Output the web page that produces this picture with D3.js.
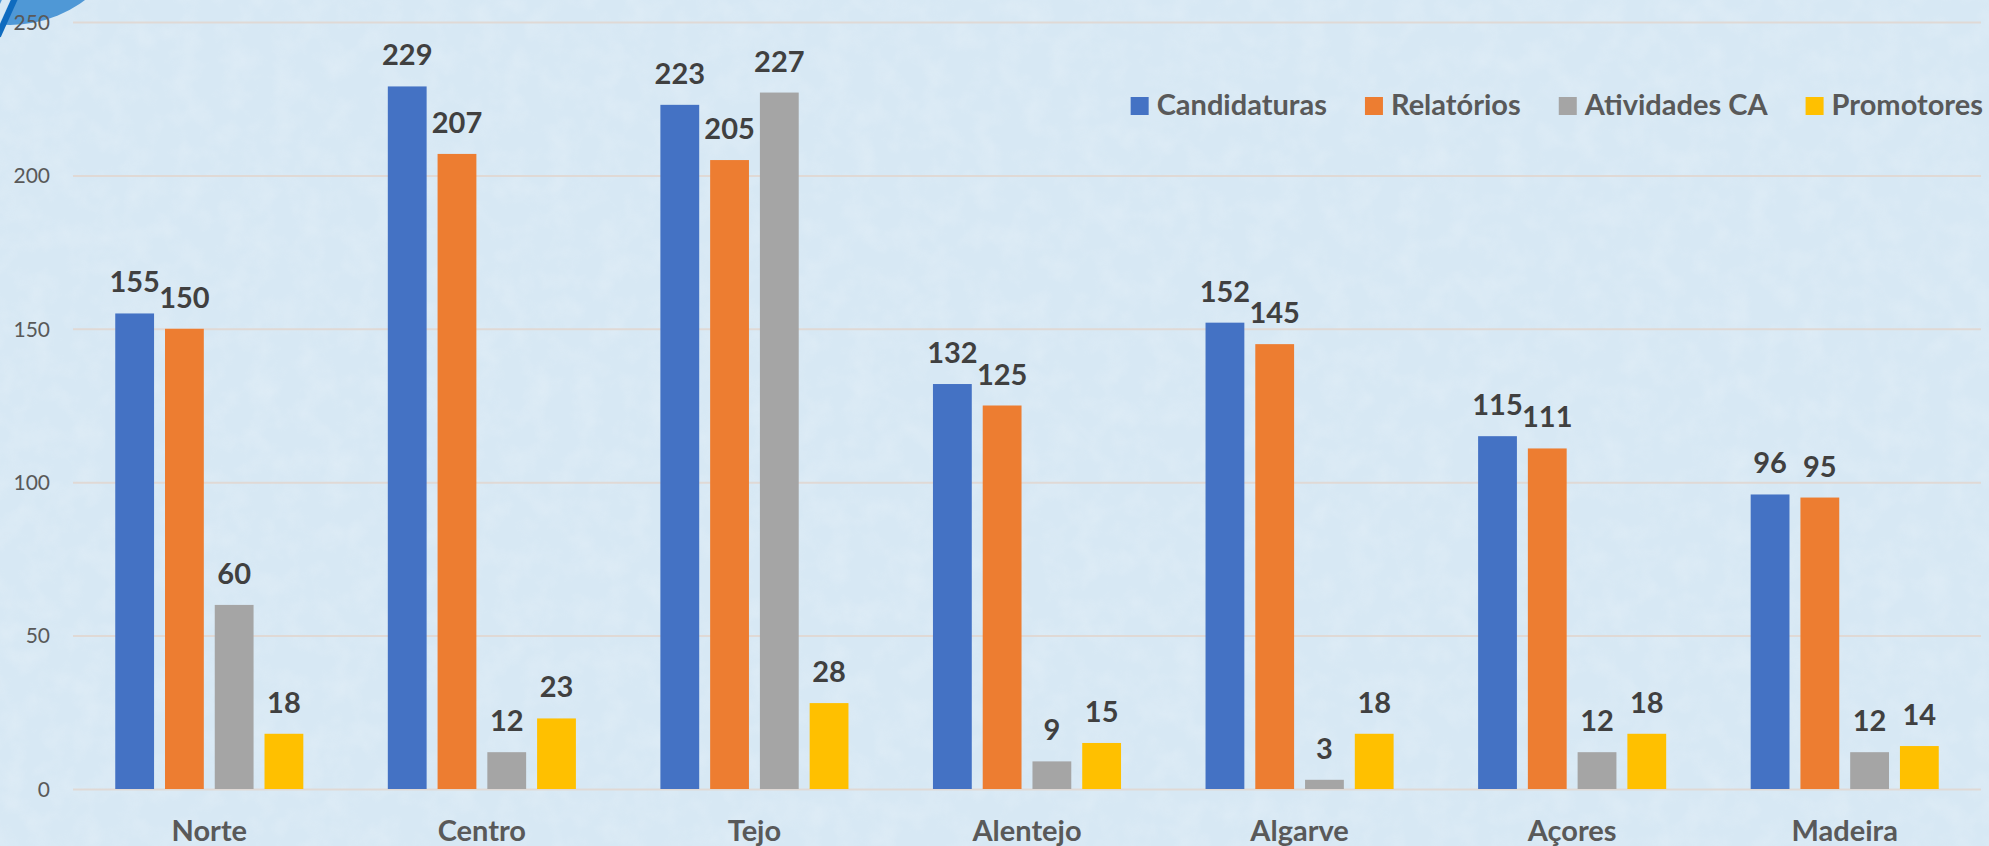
<!DOCTYPE html>
<html>
<head>
<meta charset="utf-8">
<script src="https://cdn.jsdelivr.net/npm/d3@7"></script>
<style>
  body { margin: 0; background: #d7e8f4; }
  svg { display: block; }
  text { font-family: Lato, "Open Sans", sans-serif; }
</style>
</head>
<body>
<svg id="canvas" width="1989" height="846"></svg>
<script>
const regions = ["Norte", "Centro", "Tejo", "Alentejo", "Algarve", "Açores", "Madeira"];
const seriesNames = ["Candidaturas", "Relatórios", "Atividades CA", "Promotores"];
const candidaturas = [155, 229, 223, 132, 152, 115, 96];
const relatorios = [150, 207, 205, 125, 145, 111, 95];
const atividadesCA = [60, 12, 227, 9, 3, 12, 12];
const promotores = [18, 23, 28, 15, 18, 18, 14];
const yTicks = [0, 50, 100, 150, 200, 250];
const colors = ["#4472c4", "#ed7d31", "#a5a5a5", "#ffc000"];

const allSeries = [candidaturas, relatorios, atividadesCA, promotores];

const chartW = 1989, chartH = 846;
const plotLeft = 73, plotRight = 1981, plotTop = 22, plotBottom = 789;

const svg = d3.select("#canvas");

// background with a bit of paper texture
const defs = svg.append("defs");
const filt = defs.append("filter").attr("id", "grain").attr("x", 0).attr("y", 0).attr("width", "100%").attr("height", "100%");
filt.append("feTurbulence").attr("type", "fractalNoise").attr("baseFrequency", 0.04).attr("numOctaves", 3).attr("seed", 4);
filt.append("feColorMatrix").attr("values", "0 0 0 0 1  0 0 0 0 1  0 0 0 0 1  0 0 0 0.9 -0.35");

svg.append("rect").attr("width", chartW).attr("height", chartH).attr("fill", "#d7e8f4");
svg.append("rect").attr("width", chartW).attr("height", chartH).attr("filter", "url(#grain)").attr("opacity", 0.35);

// logo corner
svg.append("circle").attr("cx", 10).attr("cy", -100).attr("r", 125).attr("fill", "#4f98d6");
svg.append("line").attr("x1", -2).attr("y1", 36).attr("x2", 16).attr("y2", -4)
    .attr("stroke", "#0f6bbf").attr("stroke-width", 6);
svg.append("line").attr("x1", -10).attr("y1", 36).attr("x2", 8).attr("y2", -4)
    .attr("stroke", "#d7e8f4").attr("stroke-width", 8);

const x0 = d3.scaleBand().domain(regions).range([plotLeft, plotRight]).paddingInner(0.31).paddingOuter(0.155);
const x1 = d3.scaleBand().domain(seriesNames).range([0, x0.bandwidth()]).paddingInner(0.22);
const y = d3.scaleLinear().domain([0, 250]).range([plotBottom, plotTop]);

// gridlines + y labels
const yAxis = d3.axisLeft(y).tickValues(yTicks).tickSize(-(plotRight - plotLeft)).tickPadding(23);
const gy = svg.append("g").attr("transform", `translate(${plotLeft},0)`).call(yAxis);
gy.select(".domain").remove();
gy.selectAll("line").attr("stroke", "#e0d9d5").attr("stroke-width", 2);
gy.selectAll("text").attr("fill", "#595959").attr("font-size", 21).attr("dy", "0.35em");

// x labels
const xAxis = d3.axisBottom(x0).tickSize(0).tickPadding(0);
const gx = svg.append("g").attr("transform", `translate(0,${plotBottom})`).call(xAxis);
gx.select(".domain").remove();
gx.selectAll("text").attr("fill", "#595959").attr("font-size", 29).attr("font-weight", "bold")
    .attr("dy", null).attr("y", 52);

// bars
const rows = regions.map((r, i) => ({ region: r, values: seriesNames.map((s, j) => ({ s, j, v: allSeries[j][i] })) }));

const groups = svg.selectAll("g.region").data(rows).enter().append("g")
    .attr("class", "region")
    .attr("transform", d => `translate(${x0(d.region)},0)`);

groups.selectAll("rect").data(d => d.values).enter().append("rect")
    .attr("x", d => x1(d.s))
    .attr("y", d => y(d.v))
    .attr("width", x1.bandwidth())
    .attr("height", d => y(0) - y(d.v))
    .attr("fill", d => colors[d.j]);

groups.selectAll("text").data(d => d.values).enter().append("text")
    .attr("x", d => x1(d.s) + x1.bandwidth() / 2)
    .attr("y", d => y(d.v) - 21)
    .attr("text-anchor", "middle")
    .attr("font-size", 29)
    .attr("font-weight", "bold")
    .attr("fill", "#404040")
    .text(d => d.v);

// legend, right-aligned to end near the edge
const legend = svg.append("g");
let lx = 0;
seriesNames.forEach((name, j) => {
    legend.append("rect").attr("x", lx).attr("y", 97).attr("width", 18).attr("height", 18).attr("fill", colors[j]);
    const t = legend.append("text").attr("x", lx + 26).attr("y", 115)
        .attr("font-size", 29).attr("font-weight", "bold").attr("fill", "#595959").text(name);
    lx += 26 + t.node().getComputedTextLength();
    if (j < seriesNames.length - 1) lx += 38;
});
legend.attr("transform", `translate(${1983 - lx},0)`);
</script>
</body>
</html>
